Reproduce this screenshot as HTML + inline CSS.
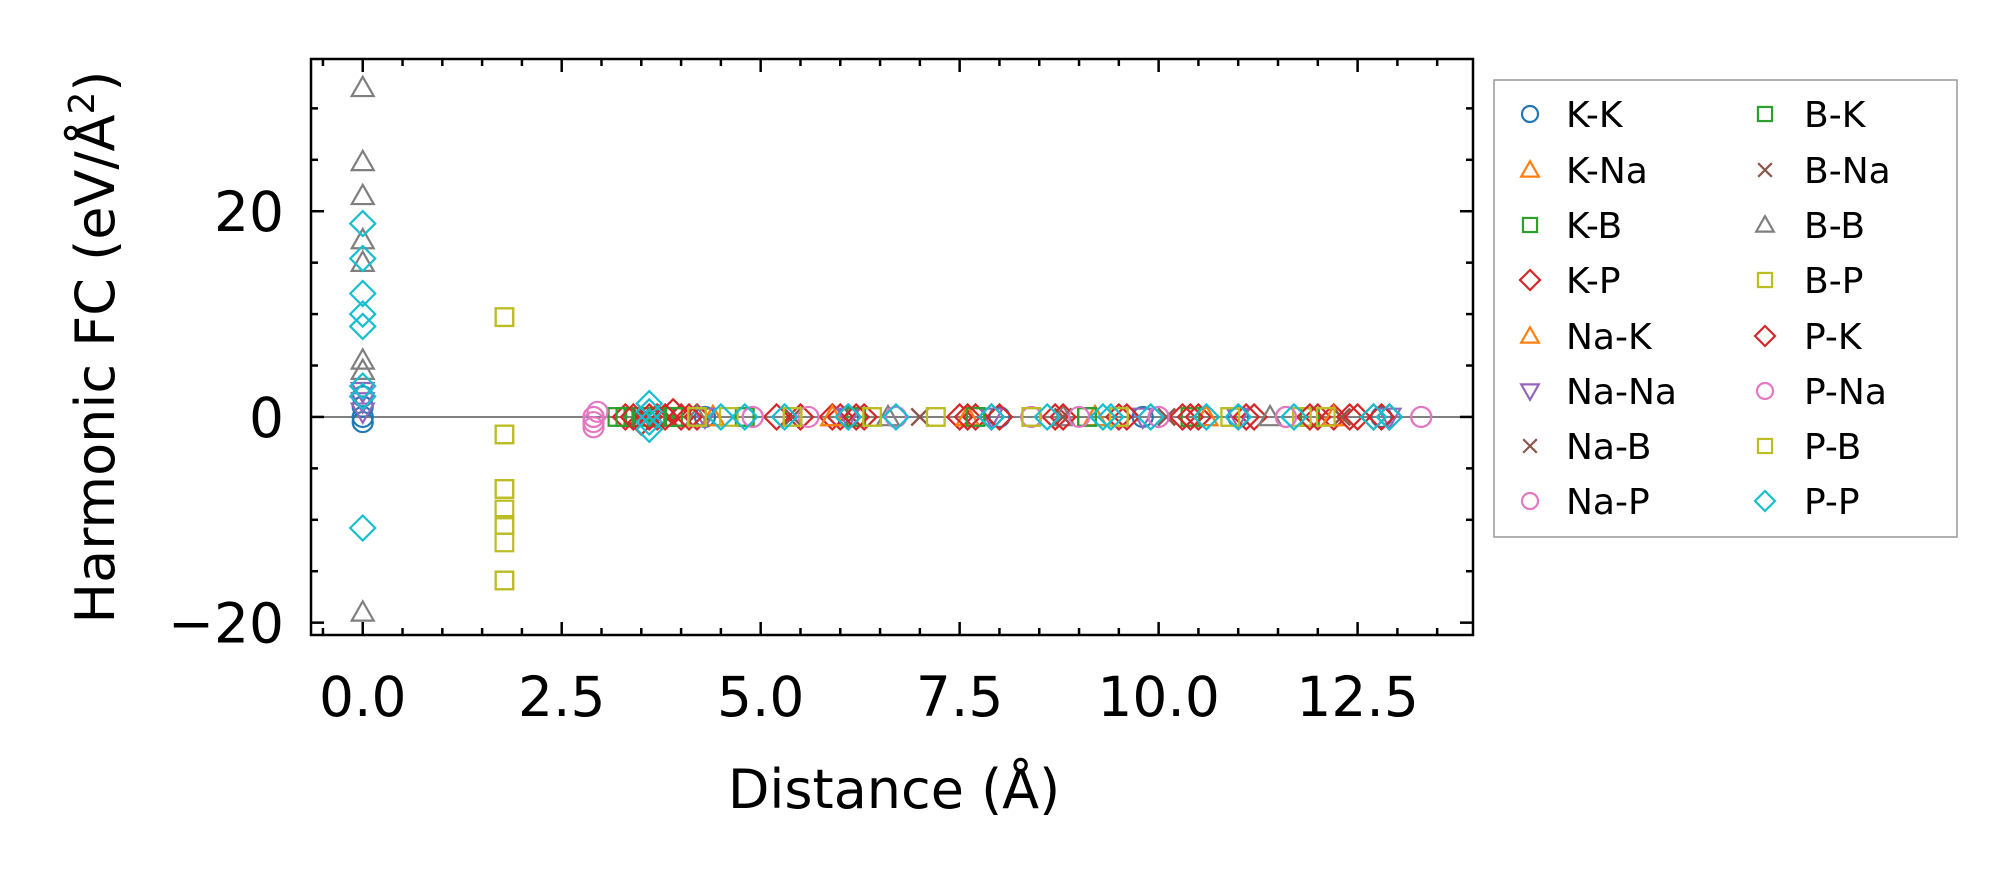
<!DOCTYPE html>
<html><head><meta charset="utf-8"><style>
html,body{margin:0;padding:0;background:#fff;}
svg{display:block;font-family:"DejaVu Sans","Liberation Sans",sans-serif;}
</style></head><body>
<svg id="chart" width="2016" height="883" viewBox="0 0 2016 883"></svg>
<script>
const seriesNames=["K-K","K-Na","K-B","K-P","Na-K","Na-Na","Na-B","Na-P","B-K","B-Na","B-B","B-P","P-K","P-Na","P-B","P-P"];
const seriesColors=["#1f77b4","#ff7f0e","#2ca02c","#d62728","#ff7f0e","#9467bd","#8c564b","#e377c2","#2ca02c","#8c564b","#7f7f7f","#bcbd22","#d62728","#e377c2","#bcbd22","#17becf"];
const seriesMarkers=["o","^","s","D","^","v","x","o","s","x","^","s","D","o","s","D"];
const kkX=[0,0,0,0,4.3,6.1,8.0,9.8,11.0,12.8];
const kkY=[0,-0.5,1,2,0,0,0,0,0,0];
const knaX=[4.4,5.9,7.6,9.2,10.6,12.2];
const knaY=[0,0,0,0,0,0];
const kbX=[3.2,3.4,3.6,3.8,4.0,4.8,6.2,7.7,9.1,10.4,11.9];
const kbY=[0,0,0,0,0,0,0,0,0,0,0];
const kpX=[3.3,3.5,3.7,3.9,4.0,4.2,5.2,5.9,6.0,6.1,6.3,7.5,7.7,7.9,8.7,9.5,10.3,10.5,11.2,12.0,12.2,12.5,12.7,12.9];
const kpY=[0,-0.5,0,0.5,0,0,0,0,0,0,0,0,0,0,0,0,0,0,0,0,0,0,0,0];
const nakX=[4.4,5.9,7.6,9.2,10.6,12.2];
const nakY=[0,0,0,0,0,0];
const nanaX=[0,0,0,4.3,6.1,7.9,9.8,11.0,12.9];
const nanaY=[1.5,0.5,2.5,0,0,0,0,0,0];
const nabX=[3.5,5.4,7.0,8.8,10.1,12.3];
const nabY=[0,0,0,0,0,0];
const napX=[2.9,2.9,2.9,2.95,4.9,6.7,8.4,10.0,11.6,13.3];
const napY=[0,-0.5,-1,0.5,0,0,0,0,0,0];
const bkX=[3.3,3.5,3.7,3.9,4.8,6.2,7.7,9.1,10.4,11.9];
const bkY=[0,0,0,0,0,0,0,0,0,0];
const bnaX=[3.5,5.4,7.0,8.8,10.1,12.3];
const bnaY=[0,0,0,0,0,0];
const bbX=[0,0,0,0,0,0,0,0,4.2,6.6,8.8,11.4];
const bbY=[32,24.8,21.5,17.2,15,5.5,4.5,-19,0,0,0,0];
const bpX=[1.78,1.78,1.78,1.78,1.78,1.78,1.78,4.2,5.4,6.4,7.2,8.4,9.5,10.9,11.8];
const bpY=[9.7,-1.7,-7,-9,-10.5,-12.2,-15.9,0,0,0,0,0,0,0,0];
const pkX=[3.4,3.6,3.8,4.1,5.5,6.2,7.6,8.0,8.8,9.6,10.4,11.1,11.9,12.4,12.8];
const pkY=[0,0,0,0,0,0,0,0,0,0,0,0,0,0,0];
const pnaX=[2.9,4.9,5.6,6.7,8.4,9.0,10.0,11.6,13.3];
const pnaY=[0,0,0,0,0,0,0,0,0];
const pbX=[1.78,1.78,1.78,1.78,1.78,4.2,4.6,5.4,6.4,7.2,8.4,9.5,10.9,12.1];
const pbY=[9.7,-1.7,-7,-10.5,-15.9,0,0,0,0,0,0,0,0,0];
const ppX=[0,0,0,0,0,0,0,0,3.6,3.6,3.6,3.6,4.5,4.8,5.3,6.1,6.7,7.9,8.6,9.3,9.4,9.9,10.6,11.0,11.7,12.7,12.9];
const ppY=[18.8,15.4,12,10,8.8,3,2,-10.8,1.3,0.5,-0.5,-1.2,0,0,0,0,0,0,0,0,0,0,0,0,0,0,0];
const seriesX=[kkX,knaX,kbX,kpX,nakX,nanaX,nabX,napX,bkX,bnaX,bbX,bpX,pkX,pnaX,pbX,ppX];
const seriesY=[kkY,knaY,kbY,kpY,nakY,nanaY,nabY,napY,bkY,bnaY,bbY,bpY,pkY,pnaY,pbY,ppY];
const xTickVals=[0,2.5,5,7.5,10,12.5];
const xTickLabels=["0.0","2.5","5.0","7.5","10.0","12.5"];
const yTickVals=[-20,0,20];
const yTickLabels=["\u221220","0","20"];

const L=311,R=1473,T=59,B=635;
const xMin=-0.65,xMax=13.95,yMin=-21.2,yMax=34.8;
const sx=v=>L+(v-xMin)/(xMax-xMin)*(R-L);
const sy=v=>B-(v-yMin)/(yMax-yMin)*(B-T);
const svg=document.getElementById('chart');
const NS="http://www.w3.org/2000/svg";
function mk(tag,attrs,parent){const e=document.createElementNS(NS,tag);for(const k in attrs)e.setAttribute(k,attrs[k]);(parent||svg).appendChild(e);return e;}

function marker(g,type,cx,cy,r,color){
  let e;
  const st={fill:"none",stroke:color,"stroke-width":2.2};
  if(type==="o"){e=mk("circle",Object.assign({cx:cx,cy:cy,r:r},st),g);}
  else if(type==="s"){const h=r*0.88;e=mk("rect",Object.assign({x:cx-h,y:cy-h,width:2*h,height:2*h},st),g);}
  else if(type==="D"){const h=r*1.25;e=mk("polygon",Object.assign({points:`${cx},${cy-h} ${cx+h},${cy} ${cx},${cy+h} ${cx-h},${cy}`},st),g);}
  else if(type==="^"){const h=r*1.1;e=mk("polygon",Object.assign({points:`${cx},${cy-h} ${cx+h},${cy+h*0.75} ${cx-h},${cy+h*0.75}`},st),g);}
  else if(type==="v"){const h=r*1.1;e=mk("polygon",Object.assign({points:`${cx},${cy+h} ${cx+h},${cy-h*0.75} ${cx-h},${cy-h*0.75}`},st),g);}
  else {const h=r*0.85;e=mk("path",Object.assign({d:`M${cx-h},${cy-h}L${cx+h},${cy+h}M${cx-h},${cy+h}L${cx+h},${cy-h}`},st),g);}
  return e;
}

const zl=mk("line",{x1:L,x2:R,y1:sy(0),y2:sy(0),stroke:"#808080","stroke-width":2});



const clip=mk("clipPath",{id:"cp"});mk("rect",{x:L,y:T,width:R-L,height:B-T},clip);
for(let s=0;s<seriesNames.length;s++){
  const g=mk("g",{"clip-path":"url(#cp)"});
  
  
  for(let i=0;i<seriesX[s].length;i++){
    const m=marker(g,seriesMarkers[s],sx(seriesX[s][i]),sy(seriesY[s][i]),10,seriesColors[s]);
    
    
  }
}

const fr=mk("rect",{x:L,y:T,width:R-L,height:B-T,fill:"none",stroke:"#000","stroke-width":2.5});



const tg=mk("g",{stroke:"#000","stroke-width":2.5});


for(let v=-0.5;v<=13.91;v+=0.5){
  const major=Math.abs(v/2.5-Math.round(v/2.5))<1e-6;const len=major?13:7;const x=sx(v);
  mk("line",{x1:x,x2:x,y1:B,y2:B-len},tg);mk("line",{x1:x,x2:x,y1:T,y2:T+len},tg);
}
for(let v=-20;v<=30;v+=5){
  const major=v%20===0;const len=major?13:7;const y=sy(v);
  mk("line",{x1:L,x2:L+len,y1:y,y2:y},tg);mk("line",{x1:R,x2:R-len,y1:y,y2:y},tg);
}
xTickVals.forEach((v,i)=>{
  const t=mk("text",{x:sx(v),y:716,"font-size":55,"text-anchor":"middle",fill:"#000"});
  t.textContent=xTickLabels[i];
  
  
});
yTickVals.forEach((v,i)=>{
  const t=mk("text",{x:284,y:sy(v)+20,"font-size":55,"text-anchor":"end",fill:"#000"});
  t.textContent=yTickLabels[i];
  
  
});
const xt=mk("text",{x:894,y:808,"font-size":54,"text-anchor":"middle",fill:"#000"});
xt.textContent="Distance (Å)";


const yt=mk("text",{x:0,y:0,"font-size":54,"text-anchor":"middle",fill:"#000",transform:"translate(114,347) rotate(-90)"});
yt.innerHTML='Harmonic FC (eV/Å<tspan dy="-20" font-size="36">2</tspan><tspan dy="20">)</tspan>';



const lg=mk("g",{});


mk("rect",{x:1494,y:80,width:463,height:457,fill:"#fff",stroke:"#999","stroke-width":1.5},lg);
const rows=[114,170,225,280,336,391,446,501];
for(let s=0;s<16;s++){
  const col=s<8?0:1,row=s%8;
  const mx=col?1765:1530,tx=col?1804:1566,y=rows[row];
  const e=mk("g",{},lg);
  
  
  marker(e,seriesMarkers[s],mx,y,8,seriesColors[s]);
  const t=mk("text",{x:tx,y:y+13,"font-size":36,fill:"#000"},e);
  t.textContent=seriesNames[s];
}
</script>
</body></html>
